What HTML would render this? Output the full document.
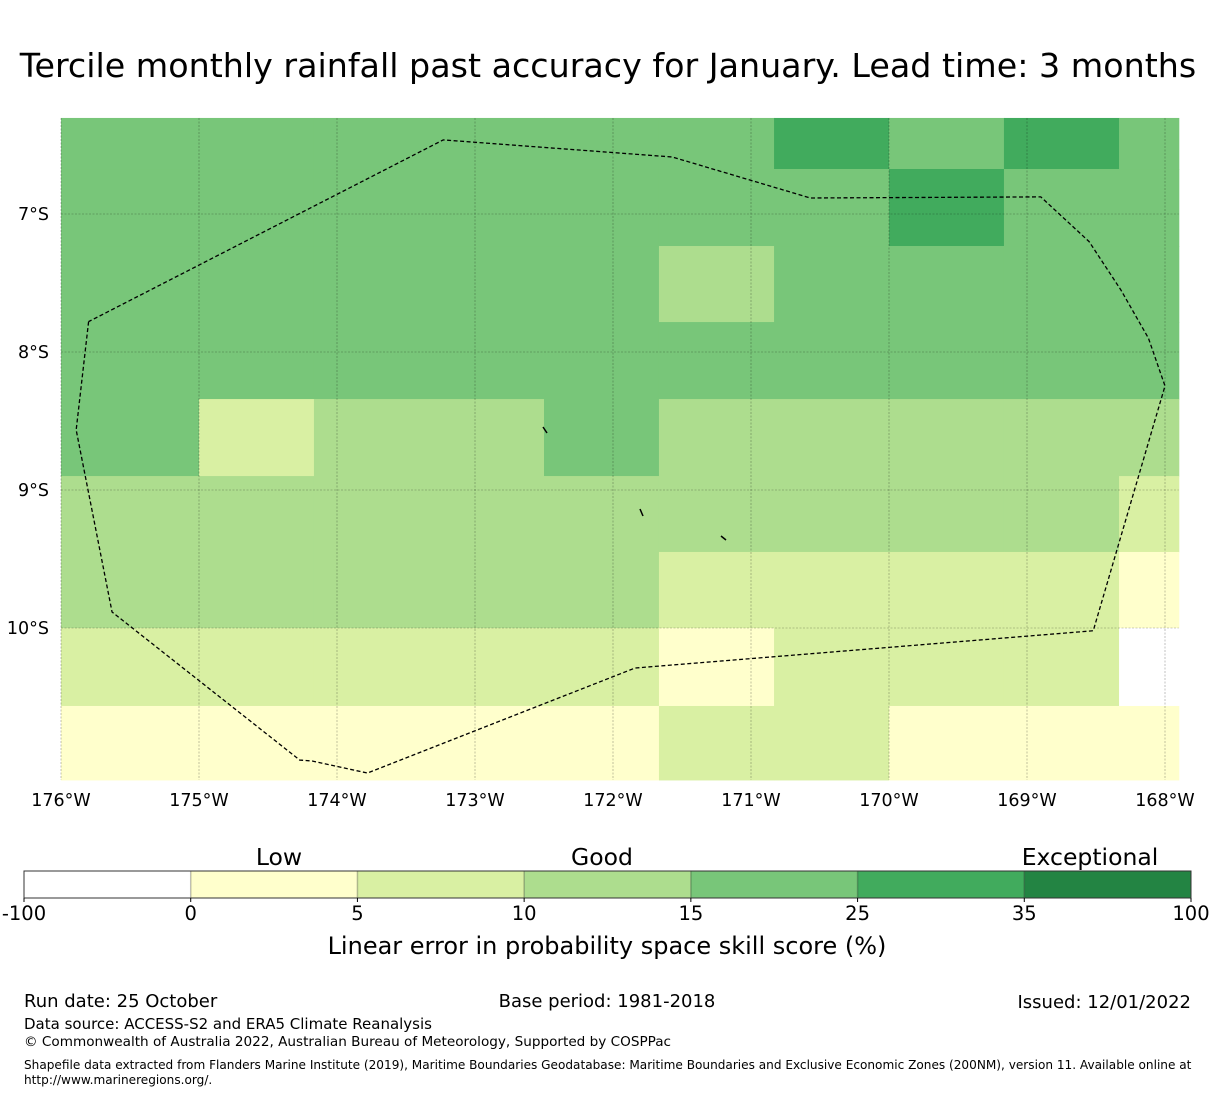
<!DOCTYPE html>
<html><head><meta charset="utf-8"><style>
body{margin:0;background:#fff;font-family:"DejaVu Sans","Liberation Sans",sans-serif;}
svg text{font-family:"DejaVu Sans","Liberation Sans",sans-serif;}
</style></head><body>
<svg id="chart" width="1215" height="1095" xmlns="http://www.w3.org/2000/svg">
<text x="608" y="77" font-size="33.3" text-anchor="middle">Tercile monthly rainfall past accuracy for January. Lead time: 3 months</text>
<g id="cells"></g>
<g id="grid"></g>
<g id="boundary"></g>
<g id="axes"></g>
<g id="cbar"></g>
<text x="607" y="954" font-size="24" text-anchor="middle">Linear error in probability space skill score (%)</text>
<text x="24" y="1007" font-size="18">Run date: 25 October</text>
<text x="607" y="1007" font-size="18" text-anchor="middle">Base period: 1981-2018</text>
<text x="1191" y="1008" font-size="18" text-anchor="end">Issued: 12/01/2022</text>
<text x="24" y="1029" font-size="15">Data source: ACCESS-S2 and ERA5 Climate Reanalysis</text>
<text x="24" y="1046" font-size="13.6">© Commonwealth of Australia 2022, Australian Bureau of Meteorology, Supported by COSPPac</text>
<text x="24" y="1069" font-size="12.1">Shapefile data extracted from Flanders Marine Institute (2019), Maritime Boundaries Geodatabase: Maritime Boundaries and Exclusive Economic Zones (200NM), version 11. Available online at</text>
<text x="24" y="1084" font-size="12.1">http://www.marineregions.org/.</text>
</svg>
<script>
const lonEdges=[-176,-175,-174.167,-173.333,-172.5,-171.667,-170.833,-170,-169.167,-168.333,-167.9];
const latEdges=[-6.304,-6.674,-7.232,-7.783,-8.341,-8.899,-9.449,-10.0,-10.565,-11.101];
const values=[
[18,18,18,18,18,18,30,18,30,18],
[18,18,18,18,18,18,18,30,18,18],
[18,18,18,18,18,12,18,18,18,18],
[18,18,18,18,18,18,18,18,18,18],
[18,7,12,12,18,12,12,12,12,12],
[12,12,12,12,12,12,12,12,12,7],
[12,12,12,12,12,7,7,7,7,3],
[7,7,7,7,7,3,7,7,7,-50],
[3,3,3,3,3,7,7,3,3,3]];
const xTicks=[-176,-175,-174,-173,-172,-171,-170,-169,-168];
const yTicks=[-7,-8,-9,-10];
const bLon=[-175.8,-175.89,-175.63,-174.27,-174.18,-173.78,-171.84,-168.52,-168.0,-168.12,-168.32,-168.55,-168.9,-170.57,-171.57,-173.23,-175.8];
const bLat=[-7.78,-8.565,-9.884,-10.957,-10.964,-11.051,-10.29,-10.02,-8.246,-7.9,-7.55,-7.2,-6.876,-6.884,-6.587,-6.463,-7.78];
const cbBounds=[-100,0,5,10,15,25,35,100];
const cbColors=['#ffffff','#ffffcc','#d9f0a3','#addd8e','#78c679','#41ab5d','#238443'];
const x=lon=>61+(lon+176)*138;
const y=lat=>214+(-7-lat)*138;
const NS='http://www.w3.org/2000/svg';
function mk(t,a,p){const e=document.createElementNS(NS,t);for(const k in a)e.setAttribute(k,a[k]);p.appendChild(e);return e;}
function color(v){for(let i=cbBounds.length-2;i>=0;i--)if(v>=cbBounds[i])return cbColors[i];return '#ffffff';}
const cells=document.getElementById('cells');
values.forEach((row,r)=>row.forEach((v,c)=>{
 const x0=x(lonEdges[c]),x1=x(lonEdges[c+1]),y0=y(latEdges[r]),y1=y(latEdges[r+1]);
 const e=mk('rect',{x:x0,y:y0,width:x1-x0+0.5,height:y1-y0+0.5,fill:color(v)},cells);
 
 
}));
const grid=document.getElementById('grid'),axes=document.getElementById('axes');
const mapTop=y(latEdges[0]),mapBot=y(latEdges[latEdges.length-1]),mapL=x(lonEdges[0]),mapR=x(lonEdges[lonEdges.length-1]);
xTicks.forEach(t=>{
 const g=mk('line',{x1:x(t),x2:x(t),y1:mapTop,y2:mapBot,stroke:'#000','stroke-opacity':0.4,'stroke-width':0.6,'stroke-dasharray':'2,1.5'},grid);
 
 
 const l=mk('text',{x:x(t),y:806,'font-size':17.5,'text-anchor':'middle'},axes);
 l.textContent=Math.abs(t)+'°W';
 
 
});
yTicks.forEach(t=>{
 const g=mk('line',{x1:mapL,x2:mapR,y1:y(t),y2:y(t),stroke:'#000','stroke-opacity':0.4,'stroke-width':0.6,'stroke-dasharray':'2,1.5'},grid);
 
 
 const l=mk('text',{x:49,y:y(t)+6,'font-size':17.5,'text-anchor':'end'},axes);
 l.textContent=Math.abs(t)+'°S';
 
 
});
const bd=document.getElementById('boundary');
const pts=bLon.map((lo,i)=>x(lo)+','+y(bLat[i])).join(' ');
const pl=mk('polyline',{points:pts,fill:'none',stroke:'#000','stroke-width':1.3,'stroke-dasharray':'4,2.5'},bd);


[[543,427,547,433],[640,509,643,516],[721,536,726,540]].forEach(a=>{
 const e=mk('line',{x1:a[0],y1:a[1],x2:a[2],y2:a[3],stroke:'#000','stroke-width':1.5},bd);
 
 
});
const cb=document.getElementById('cbar');
const cw=(1191-24)/cbColors.length;
cbColors.forEach((c,i)=>{
 const e=mk('rect',{x:24+i*cw,y:871,width:cw,height:27,fill:c},cb);
 
 
 if(i>0){mk('line',{x1:24+i*cw,x2:24+i*cw,y1:871,y2:898,stroke:'#000','stroke-opacity':0.25,'stroke-width':1.5},cb);}
});
mk('rect',{x:24,y:871,width:1167,height:27,fill:'none',stroke:'#333','stroke-width':1},cb);
cbBounds.forEach((b,i)=>{
 mk('line',{x1:24+i*cw,x2:24+i*cw,y1:898,y2:902,stroke:'#000'},cb);
 const l=mk('text',{x:24+i*cw,y:920,'font-size':19.5,'text-anchor':'middle'},cb);
 l.textContent=b;
 
 
});
[['Low',279],['Good',602],['Exceptional',1090]].forEach(a=>{
 const l=mk('text',{x:a[1],y:865,'font-size':23.5,'text-anchor':'middle'},cb);
 l.textContent=a[0];
 
 
});
</script>
</body></html>
